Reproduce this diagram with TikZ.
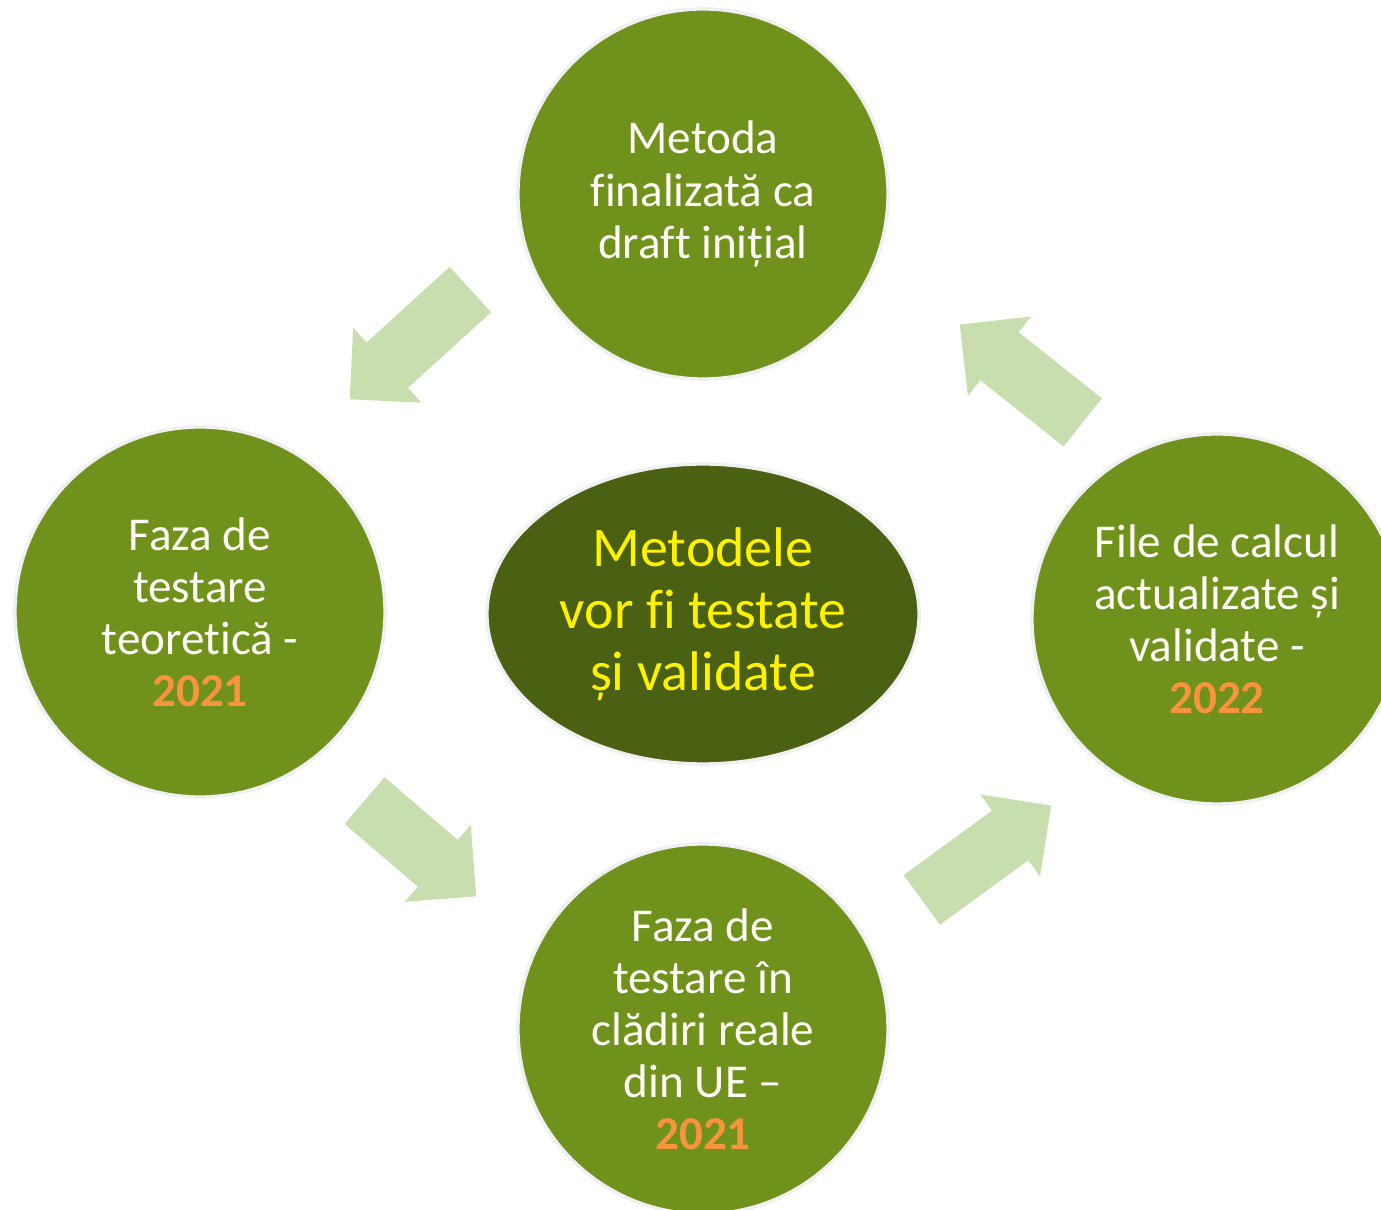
\documentclass[tikz,border=0pt]{standalone}
\usepackage{fontspec}
\setmainfont{Carlito}[Ligatures={TeX,NoCommon}]
\usetikzlibrary{shapes.geometric,shapes.arrows}
\definecolor{stepgreen}{RGB}{112,145,28}
\definecolor{coregreen}{RGB}{74,96,18}
\definecolor{flowgreen}{RGB}{201,222,174}
\definecolor{yearorange}{RGB}{247,148,60}
\definecolor{textcream}{RGB}{255,255,246}
\newcommand{\yr}[1]{\textcolor{yearorange}{\textbf{#1}}}

\begin{document}
\begin{tikzpicture}[x=0.01cm,y=-0.01cm,
		stage/.style={circle,fill=stepgreen,draw=black!6,line width=1pt,
			minimum size=3.7cm,inner sep=0pt,align=center,text=textcream,
			font=\fontsize{13.4}{14.8}\selectfont},
		core/.style={ellipse,fill=coregreen,draw=black!6,line width=1pt,
			minimum width=4.32cm,minimum height=3cm,inner sep=0pt,align=center,
			text=yellow,font=\fontsize{15.9}{17.6}\selectfont},
		flow/.style={single arrow,fill=flowgreen,anchor=tip,
			inner xsep=0pt,inner ysep=0.3cm,single arrow head extend=0.2cm}]
	\useasboundingbox (0,0) rectangle (1381,1210);
	\clip (0,0) rectangle (1381,1210);
	% the four stages round the centre
	\node[stage] (draft) at (703,194) {Metoda\\finalizată ca\\draft inițial};
	\node[stage] (theory) at (200,612) {Faza de\\testare\\teoretică -\\\yr{2021}};
	\node[stage] (real) at (703,1029) {Faza de\\testare în\\clădiri reale\\din UE –\\\yr{2021}};
	\node[stage] (sheets) at (1217,619) {File de calcul\\actualizate și\\validate -\\\yr{2022}};
	\node[core] (methods) at (703,614) {Metodele\\vor fi testate\\și validate};
	% block arrows of the cycle, placed by their tips
	\node[flow,minimum height=1.63cm,rotate=222.3] (drafttheory) at (349,400) {};
	\node[flow,minimum height=1.47cm,rotate=-40.6] (theoryreal) at (477,897) {};
	\node[flow,minimum height=1.6cm,rotate=36.1] (realsheets) at (1052,805) {};
	\node[flow,minimum height=1.57cm,rotate=141.5] (sheetsdraft) at (959,324) {};
\end{tikzpicture}
\end{document}
